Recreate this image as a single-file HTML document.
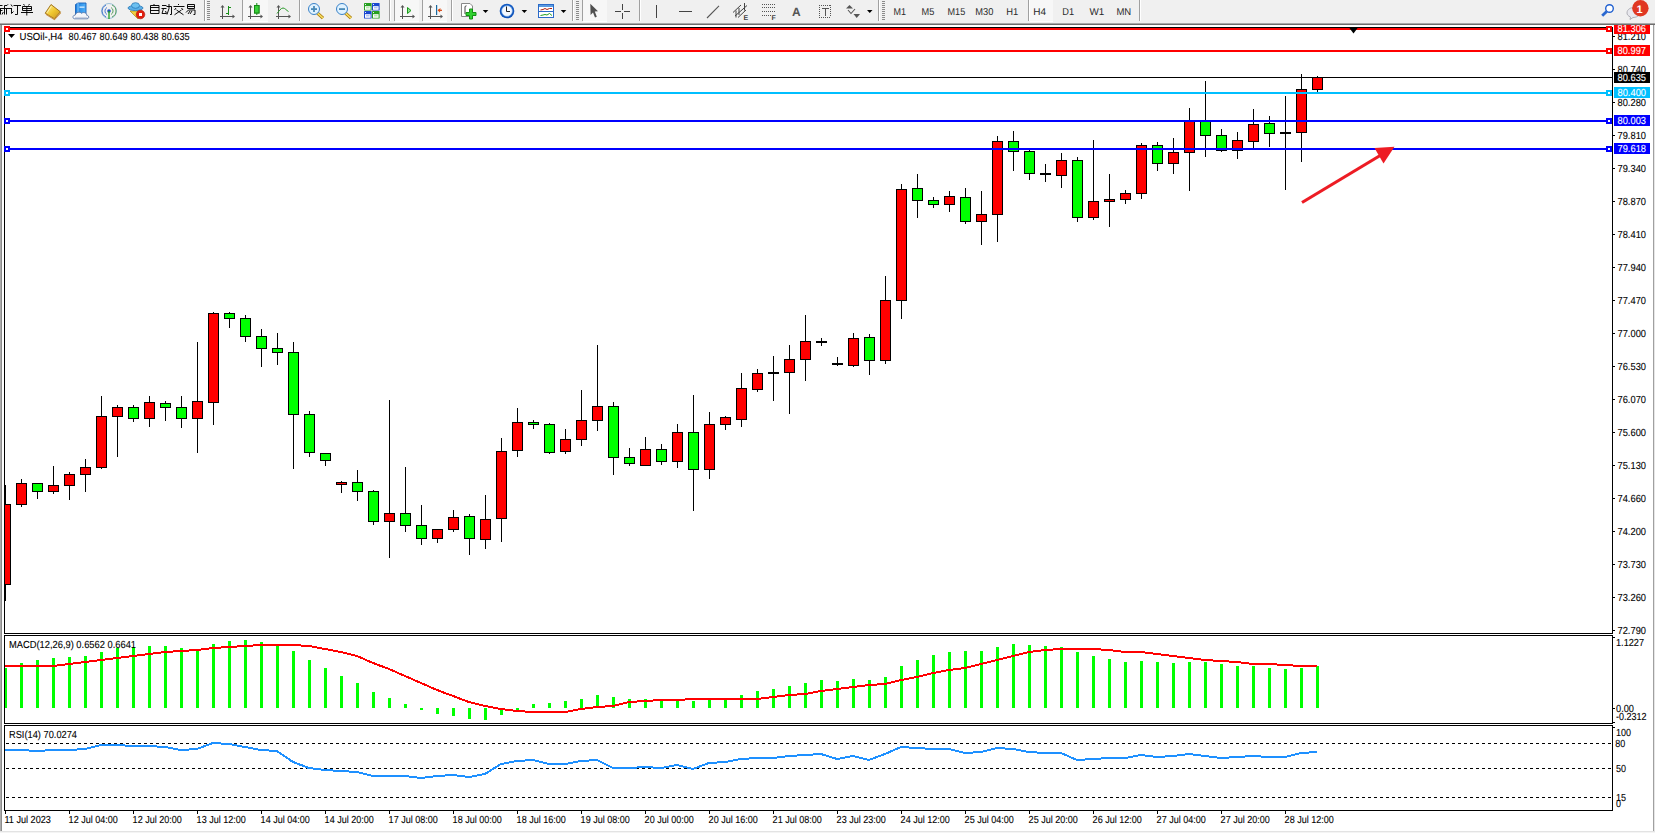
<!DOCTYPE html>
<html><head><meta charset="utf-8"><title>MT4 USOil H4</title>
<style>
html,body{margin:0;padding:0;background:#fff;}
body{width:1655px;height:833px;overflow:hidden;}
svg{display:block;font-family:"Liberation Sans",sans-serif;text-rendering:geometricPrecision;}
</style></head><body>
<svg width="1655" height="833" viewBox="0 0 1655 833">
<rect x="0" y="0" width="1655" height="833" fill="#fff"/>
<rect x="0" y="0" width="1655" height="23" fill="#f0f0f0"/>
<rect x="0" y="23" width="1655" height="1" fill="#a9a9a9"/>
<rect x="0" y="24" width="1655" height="1" fill="#6d6d6d"/>
<g shape-rendering="crispEdges">
<rect x="4" y="27" width="1609" height="1" fill="#000"/>
<rect x="4" y="633" width="1609" height="1" fill="#000"/>
<rect x="4" y="27" width="1" height="607" fill="#000"/>
<rect x="1612" y="27" width="1" height="607" fill="#000"/>
<rect x="4" y="635" width="1609" height="1" fill="#000"/>
<rect x="4" y="723" width="1609" height="1" fill="#000"/>
<rect x="4" y="635" width="1" height="89" fill="#000"/>
<rect x="1612" y="635" width="1" height="89" fill="#000"/>
<rect x="4" y="725" width="1609" height="1" fill="#000"/>
<rect x="4" y="810" width="1609" height="1" fill="#000"/>
<rect x="4" y="725" width="1" height="86" fill="#000"/>
<rect x="1612" y="725" width="1" height="86" fill="#000"/>
<g>
<rect x="5" y="485" width="1" height="116" fill="#000"/>
<rect x="0" y="504" width="11" height="81" fill="#000"/>
<rect x="1" y="505" width="9" height="79" fill="#ff0000"/>
<rect x="21" y="479" width="1" height="28" fill="#000"/>
<rect x="16" y="483" width="11" height="22" fill="#000"/>
<rect x="17" y="484" width="9" height="20" fill="#ff0000"/>
<rect x="37" y="483" width="1" height="16" fill="#000"/>
<rect x="32" y="483" width="11" height="9" fill="#000"/>
<rect x="33" y="484" width="9" height="7" fill="#00ff00"/>
<rect x="53" y="466" width="1" height="28" fill="#000"/>
<rect x="48" y="485" width="11" height="7" fill="#000"/>
<rect x="49" y="486" width="9" height="5" fill="#ff0000"/>
<rect x="69" y="472" width="1" height="28" fill="#000"/>
<rect x="64" y="474" width="11" height="12" fill="#000"/>
<rect x="65" y="475" width="9" height="10" fill="#ff0000"/>
<rect x="85" y="459" width="1" height="33" fill="#000"/>
<rect x="80" y="467" width="11" height="8" fill="#000"/>
<rect x="81" y="468" width="9" height="6" fill="#ff0000"/>
<rect x="101" y="396" width="1" height="73" fill="#000"/>
<rect x="96" y="416" width="11" height="52" fill="#000"/>
<rect x="97" y="417" width="9" height="50" fill="#ff0000"/>
<rect x="117" y="405" width="1" height="52" fill="#000"/>
<rect x="112" y="407" width="11" height="10" fill="#000"/>
<rect x="113" y="408" width="9" height="8" fill="#ff0000"/>
<rect x="133" y="405" width="1" height="17" fill="#000"/>
<rect x="128" y="407" width="11" height="12" fill="#000"/>
<rect x="129" y="408" width="9" height="10" fill="#00ff00"/>
<rect x="149" y="396" width="1" height="31" fill="#000"/>
<rect x="144" y="402" width="11" height="17" fill="#000"/>
<rect x="145" y="403" width="9" height="15" fill="#ff0000"/>
<rect x="165" y="401" width="1" height="20" fill="#000"/>
<rect x="160" y="403" width="11" height="5" fill="#000"/>
<rect x="161" y="404" width="9" height="3" fill="#00ff00"/>
<rect x="181" y="396" width="1" height="32" fill="#000"/>
<rect x="176" y="407" width="11" height="12" fill="#000"/>
<rect x="177" y="408" width="9" height="10" fill="#00ff00"/>
<rect x="197" y="342" width="1" height="111" fill="#000"/>
<rect x="192" y="401" width="11" height="18" fill="#000"/>
<rect x="193" y="402" width="9" height="16" fill="#ff0000"/>
<rect x="213" y="312" width="1" height="113" fill="#000"/>
<rect x="208" y="313" width="11" height="90" fill="#000"/>
<rect x="209" y="314" width="9" height="88" fill="#ff0000"/>
<rect x="229" y="312" width="1" height="16" fill="#000"/>
<rect x="224" y="313" width="11" height="6" fill="#000"/>
<rect x="225" y="314" width="9" height="4" fill="#00ff00"/>
<rect x="245" y="315" width="1" height="27" fill="#000"/>
<rect x="240" y="318" width="11" height="19" fill="#000"/>
<rect x="241" y="319" width="9" height="17" fill="#00ff00"/>
<rect x="261" y="329" width="1" height="38" fill="#000"/>
<rect x="256" y="336" width="11" height="13" fill="#000"/>
<rect x="257" y="337" width="9" height="11" fill="#00ff00"/>
<rect x="277" y="333" width="1" height="32" fill="#000"/>
<rect x="272" y="348" width="11" height="5" fill="#000"/>
<rect x="273" y="349" width="9" height="3" fill="#00ff00"/>
<rect x="293" y="342" width="1" height="127" fill="#000"/>
<rect x="288" y="352" width="11" height="63" fill="#000"/>
<rect x="289" y="353" width="9" height="61" fill="#00ff00"/>
<rect x="309" y="411" width="1" height="46" fill="#000"/>
<rect x="304" y="414" width="11" height="39" fill="#000"/>
<rect x="305" y="415" width="9" height="37" fill="#00ff00"/>
<rect x="325" y="453" width="1" height="13" fill="#000"/>
<rect x="320" y="453" width="11" height="8" fill="#000"/>
<rect x="321" y="454" width="9" height="6" fill="#00ff00"/>
<rect x="341" y="481" width="1" height="12" fill="#000"/>
<rect x="336" y="482" width="11" height="3" fill="#000"/>
<rect x="337" y="483" width="9" height="1" fill="#ff0000"/>
<rect x="357" y="470" width="1" height="31" fill="#000"/>
<rect x="352" y="482" width="11" height="10" fill="#000"/>
<rect x="353" y="483" width="9" height="8" fill="#00ff00"/>
<rect x="373" y="490" width="1" height="35" fill="#000"/>
<rect x="368" y="491" width="11" height="31" fill="#000"/>
<rect x="369" y="492" width="9" height="29" fill="#00ff00"/>
<rect x="389" y="400" width="1" height="158" fill="#000"/>
<rect x="384" y="513" width="11" height="9" fill="#000"/>
<rect x="385" y="514" width="9" height="7" fill="#ff0000"/>
<rect x="405" y="467" width="1" height="65" fill="#000"/>
<rect x="400" y="513" width="11" height="13" fill="#000"/>
<rect x="401" y="514" width="9" height="11" fill="#00ff00"/>
<rect x="421" y="505" width="1" height="40" fill="#000"/>
<rect x="416" y="525" width="11" height="14" fill="#000"/>
<rect x="417" y="526" width="9" height="12" fill="#00ff00"/>
<rect x="437" y="529" width="1" height="14" fill="#000"/>
<rect x="432" y="529" width="11" height="10" fill="#000"/>
<rect x="433" y="530" width="9" height="8" fill="#ff0000"/>
<rect x="453" y="510" width="1" height="22" fill="#000"/>
<rect x="448" y="517" width="11" height="13" fill="#000"/>
<rect x="449" y="518" width="9" height="11" fill="#ff0000"/>
<rect x="469" y="514" width="1" height="41" fill="#000"/>
<rect x="464" y="516" width="11" height="23" fill="#000"/>
<rect x="465" y="517" width="9" height="21" fill="#00ff00"/>
<rect x="485" y="495" width="1" height="54" fill="#000"/>
<rect x="480" y="519" width="11" height="21" fill="#000"/>
<rect x="481" y="520" width="9" height="19" fill="#ff0000"/>
<rect x="501" y="438" width="1" height="104" fill="#000"/>
<rect x="496" y="451" width="11" height="68" fill="#000"/>
<rect x="497" y="452" width="9" height="66" fill="#ff0000"/>
<rect x="517" y="408" width="1" height="49" fill="#000"/>
<rect x="512" y="422" width="11" height="29" fill="#000"/>
<rect x="513" y="423" width="9" height="27" fill="#ff0000"/>
<rect x="533" y="420" width="1" height="9" fill="#000"/>
<rect x="528" y="422" width="11" height="3" fill="#000"/>
<rect x="529" y="423" width="9" height="1" fill="#00ff00"/>
<rect x="549" y="423" width="1" height="31" fill="#000"/>
<rect x="544" y="424" width="11" height="29" fill="#000"/>
<rect x="545" y="425" width="9" height="27" fill="#00ff00"/>
<rect x="565" y="429" width="1" height="25" fill="#000"/>
<rect x="560" y="439" width="11" height="13" fill="#000"/>
<rect x="561" y="440" width="9" height="11" fill="#ff0000"/>
<rect x="581" y="390" width="1" height="56" fill="#000"/>
<rect x="576" y="420" width="11" height="20" fill="#000"/>
<rect x="577" y="421" width="9" height="18" fill="#ff0000"/>
<rect x="597" y="345" width="1" height="86" fill="#000"/>
<rect x="592" y="406" width="11" height="15" fill="#000"/>
<rect x="593" y="407" width="9" height="13" fill="#ff0000"/>
<rect x="613" y="402" width="1" height="73" fill="#000"/>
<rect x="608" y="406" width="11" height="52" fill="#000"/>
<rect x="609" y="407" width="9" height="50" fill="#00ff00"/>
<rect x="629" y="448" width="1" height="18" fill="#000"/>
<rect x="624" y="457" width="11" height="7" fill="#000"/>
<rect x="625" y="458" width="9" height="5" fill="#00ff00"/>
<rect x="645" y="437" width="1" height="29" fill="#000"/>
<rect x="640" y="449" width="11" height="17" fill="#000"/>
<rect x="641" y="450" width="9" height="15" fill="#ff0000"/>
<rect x="661" y="444" width="1" height="21" fill="#000"/>
<rect x="656" y="449" width="11" height="13" fill="#000"/>
<rect x="657" y="450" width="9" height="11" fill="#00ff00"/>
<rect x="677" y="424" width="1" height="44" fill="#000"/>
<rect x="672" y="432" width="11" height="30" fill="#000"/>
<rect x="673" y="433" width="9" height="28" fill="#ff0000"/>
<rect x="693" y="395" width="1" height="116" fill="#000"/>
<rect x="688" y="432" width="11" height="38" fill="#000"/>
<rect x="689" y="433" width="9" height="36" fill="#00ff00"/>
<rect x="709" y="412" width="1" height="67" fill="#000"/>
<rect x="704" y="424" width="11" height="46" fill="#000"/>
<rect x="705" y="425" width="9" height="44" fill="#ff0000"/>
<rect x="725" y="416" width="1" height="14" fill="#000"/>
<rect x="720" y="417" width="11" height="8" fill="#000"/>
<rect x="721" y="418" width="9" height="6" fill="#ff0000"/>
<rect x="741" y="373" width="1" height="54" fill="#000"/>
<rect x="736" y="388" width="11" height="32" fill="#000"/>
<rect x="737" y="389" width="9" height="30" fill="#ff0000"/>
<rect x="757" y="369" width="1" height="23" fill="#000"/>
<rect x="752" y="373" width="11" height="17" fill="#000"/>
<rect x="753" y="374" width="9" height="15" fill="#ff0000"/>
<rect x="773" y="356" width="1" height="45" fill="#000"/>
<rect x="768" y="372" width="11" height="2" fill="#000"/>
<rect x="789" y="345" width="1" height="69" fill="#000"/>
<rect x="784" y="359" width="11" height="14" fill="#000"/>
<rect x="785" y="360" width="9" height="12" fill="#ff0000"/>
<rect x="805" y="315" width="1" height="66" fill="#000"/>
<rect x="800" y="341" width="11" height="19" fill="#000"/>
<rect x="801" y="342" width="9" height="17" fill="#ff0000"/>
<rect x="821" y="338" width="1" height="8" fill="#000"/>
<rect x="816" y="341" width="11" height="2" fill="#000"/>
<rect x="837" y="357" width="1" height="9" fill="#000"/>
<rect x="832" y="363" width="11" height="2" fill="#000"/>
<rect x="853" y="333" width="1" height="34" fill="#000"/>
<rect x="848" y="338" width="11" height="28" fill="#000"/>
<rect x="849" y="339" width="9" height="26" fill="#ff0000"/>
<rect x="869" y="334" width="1" height="41" fill="#000"/>
<rect x="864" y="337" width="11" height="24" fill="#000"/>
<rect x="865" y="338" width="9" height="22" fill="#00ff00"/>
<rect x="885" y="276" width="1" height="88" fill="#000"/>
<rect x="880" y="300" width="11" height="61" fill="#000"/>
<rect x="881" y="301" width="9" height="59" fill="#ff0000"/>
<rect x="901" y="184" width="1" height="135" fill="#000"/>
<rect x="896" y="189" width="11" height="112" fill="#000"/>
<rect x="897" y="190" width="9" height="110" fill="#ff0000"/>
<rect x="917" y="174" width="1" height="44" fill="#000"/>
<rect x="912" y="188" width="11" height="13" fill="#000"/>
<rect x="913" y="189" width="9" height="11" fill="#00ff00"/>
<rect x="933" y="197" width="1" height="11" fill="#000"/>
<rect x="928" y="200" width="11" height="5" fill="#000"/>
<rect x="929" y="201" width="9" height="3" fill="#00ff00"/>
<rect x="949" y="191" width="1" height="21" fill="#000"/>
<rect x="944" y="196" width="11" height="9" fill="#000"/>
<rect x="945" y="197" width="9" height="7" fill="#ff0000"/>
<rect x="965" y="188" width="1" height="36" fill="#000"/>
<rect x="960" y="197" width="11" height="25" fill="#000"/>
<rect x="961" y="198" width="9" height="23" fill="#00ff00"/>
<rect x="981" y="191" width="1" height="54" fill="#000"/>
<rect x="976" y="214" width="11" height="8" fill="#000"/>
<rect x="977" y="215" width="9" height="6" fill="#ff0000"/>
<rect x="997" y="136" width="1" height="106" fill="#000"/>
<rect x="992" y="141" width="11" height="74" fill="#000"/>
<rect x="993" y="142" width="9" height="72" fill="#ff0000"/>
<rect x="1013" y="131" width="1" height="40" fill="#000"/>
<rect x="1008" y="141" width="11" height="11" fill="#000"/>
<rect x="1009" y="142" width="9" height="9" fill="#00ff00"/>
<rect x="1029" y="150" width="1" height="30" fill="#000"/>
<rect x="1024" y="151" width="11" height="23" fill="#000"/>
<rect x="1025" y="152" width="9" height="21" fill="#00ff00"/>
<rect x="1045" y="164" width="1" height="18" fill="#000"/>
<rect x="1040" y="173" width="11" height="2" fill="#000"/>
<rect x="1061" y="153" width="1" height="35" fill="#000"/>
<rect x="1056" y="160" width="11" height="16" fill="#000"/>
<rect x="1057" y="161" width="9" height="14" fill="#ff0000"/>
<rect x="1077" y="157" width="1" height="65" fill="#000"/>
<rect x="1072" y="160" width="11" height="58" fill="#000"/>
<rect x="1073" y="161" width="9" height="56" fill="#00ff00"/>
<rect x="1093" y="140" width="1" height="80" fill="#000"/>
<rect x="1088" y="201" width="11" height="17" fill="#000"/>
<rect x="1089" y="202" width="9" height="15" fill="#ff0000"/>
<rect x="1109" y="174" width="1" height="53" fill="#000"/>
<rect x="1104" y="199" width="11" height="3" fill="#000"/>
<rect x="1105" y="200" width="9" height="1" fill="#ff0000"/>
<rect x="1125" y="190" width="1" height="14" fill="#000"/>
<rect x="1120" y="193" width="11" height="7" fill="#000"/>
<rect x="1121" y="194" width="9" height="5" fill="#ff0000"/>
<rect x="1141" y="143" width="1" height="56" fill="#000"/>
<rect x="1136" y="145" width="11" height="49" fill="#000"/>
<rect x="1137" y="146" width="9" height="47" fill="#ff0000"/>
<rect x="1157" y="142" width="1" height="29" fill="#000"/>
<rect x="1152" y="145" width="11" height="19" fill="#000"/>
<rect x="1153" y="146" width="9" height="17" fill="#00ff00"/>
<rect x="1173" y="138" width="1" height="36" fill="#000"/>
<rect x="1168" y="152" width="11" height="12" fill="#000"/>
<rect x="1169" y="153" width="9" height="10" fill="#ff0000"/>
<rect x="1189" y="108" width="1" height="83" fill="#000"/>
<rect x="1184" y="121" width="11" height="32" fill="#000"/>
<rect x="1185" y="122" width="9" height="30" fill="#ff0000"/>
<rect x="1205" y="81" width="1" height="76" fill="#000"/>
<rect x="1200" y="121" width="11" height="15" fill="#000"/>
<rect x="1201" y="122" width="9" height="13" fill="#00ff00"/>
<rect x="1221" y="129" width="1" height="23" fill="#000"/>
<rect x="1216" y="135" width="11" height="16" fill="#000"/>
<rect x="1217" y="136" width="9" height="14" fill="#00ff00"/>
<rect x="1237" y="132" width="1" height="27" fill="#000"/>
<rect x="1232" y="140" width="11" height="11" fill="#000"/>
<rect x="1233" y="141" width="9" height="9" fill="#ff0000"/>
<rect x="1253" y="109" width="1" height="39" fill="#000"/>
<rect x="1248" y="124" width="11" height="18" fill="#000"/>
<rect x="1249" y="125" width="9" height="16" fill="#ff0000"/>
<rect x="1269" y="116" width="1" height="31" fill="#000"/>
<rect x="1264" y="123" width="11" height="11" fill="#000"/>
<rect x="1265" y="124" width="9" height="9" fill="#00ff00"/>
<rect x="1285" y="96" width="1" height="94" fill="#000"/>
<rect x="1280" y="132" width="11" height="2" fill="#000"/>
<rect x="1301" y="74" width="1" height="88" fill="#000"/>
<rect x="1296" y="89" width="11" height="44" fill="#000"/>
<rect x="1297" y="90" width="9" height="42" fill="#ff0000"/>
<rect x="1317" y="76" width="1" height="16" fill="#000"/>
<rect x="1312" y="77" width="11" height="13" fill="#000"/>
<rect x="1313" y="78" width="9" height="11" fill="#ff0000"/>
</g>
</g>
<rect x="2" y="26" width="2" height="606" fill="#fff"/>
<rect x="4" y="27" width="1" height="607" fill="#000"/>
<g shape-rendering="crispEdges">
<rect x="5" y="77" width="1607" height="1" fill="#000"/>
<rect x="5" y="28" width="1607" height="2" fill="#ff0000"/>
<rect x="4" y="26" width="6" height="6" fill="#ff0000"/>
<rect x="6" y="28" width="2" height="2" fill="#fff"/>
<rect x="1606" y="26" width="6" height="6" fill="#ff0000"/>
<rect x="1608" y="28" width="2" height="2" fill="#fff"/>
<rect x="5" y="50" width="1607" height="2" fill="#ff0000"/>
<rect x="4" y="48" width="6" height="6" fill="#ff0000"/>
<rect x="6" y="50" width="2" height="2" fill="#fff"/>
<rect x="1606" y="48" width="6" height="6" fill="#ff0000"/>
<rect x="1608" y="50" width="2" height="2" fill="#fff"/>
<rect x="5" y="92" width="1607" height="2" fill="#00bfff"/>
<rect x="4" y="90" width="6" height="6" fill="#00bfff"/>
<rect x="6" y="92" width="2" height="2" fill="#fff"/>
<rect x="1606" y="90" width="6" height="6" fill="#00bfff"/>
<rect x="1608" y="92" width="2" height="2" fill="#fff"/>
<rect x="5" y="120" width="1607" height="2" fill="#0000ff"/>
<rect x="4" y="118" width="6" height="6" fill="#0000ff"/>
<rect x="6" y="120" width="2" height="2" fill="#fff"/>
<rect x="1606" y="118" width="6" height="6" fill="#0000ff"/>
<rect x="1608" y="120" width="2" height="2" fill="#fff"/>
<rect x="5" y="148" width="1607" height="2" fill="#0000ff"/>
<rect x="4" y="146" width="6" height="6" fill="#0000ff"/>
<rect x="6" y="148" width="2" height="2" fill="#fff"/>
<rect x="1606" y="146" width="6" height="6" fill="#0000ff"/>
<rect x="1608" y="148" width="2" height="2" fill="#fff"/>
<rect x="10" y="27" width="1596" height="1" fill="#000"/>
</g>
<polygon points="1348.6,27 1358.4,27 1353.5,33.6" fill="#000"/>
<g fill="#ed1c24" stroke="none">
<line x1="1302" y1="202.5" x2="1381" y2="155" stroke="#ed1c24" stroke-width="3.2" stroke-linecap="butt"/>
<polygon points="1374.5,148 1394.5,146.8 1383.5,163.5"/>
</g>
<polygon points="8,34 15,34 11.5,38" fill="#000"/>
<text x="19.6" y="40" fill="#000" font-size="10.2" stroke="#000" stroke-width="0.1" textLength="43" lengthAdjust="spacingAndGlyphs">USOil-,H4</text>
<text x="68.6" y="40" fill="#000" font-size="10.2" stroke="#000" stroke-width="0.1" textLength="28" lengthAdjust="spacingAndGlyphs">80.467</text>
<text x="99.6" y="40" fill="#000" font-size="10.2" stroke="#000" stroke-width="0.1" textLength="28" lengthAdjust="spacingAndGlyphs">80.649</text>
<text x="130.6" y="40" fill="#000" font-size="10.2" stroke="#000" stroke-width="0.1" textLength="28" lengthAdjust="spacingAndGlyphs">80.438</text>
<text x="161.6" y="40" fill="#000" font-size="10.2" stroke="#000" stroke-width="0.1" textLength="28" lengthAdjust="spacingAndGlyphs">80.635</text>
<g shape-rendering="crispEdges">
<rect x="1613" y="36" width="2" height="1" fill="#000"/>
<rect x="1613" y="69" width="2" height="1" fill="#000"/>
<rect x="1613" y="102" width="2" height="1" fill="#000"/>
<rect x="1613" y="135" width="2" height="1" fill="#000"/>
<rect x="1613" y="168" width="2" height="1" fill="#000"/>
<rect x="1613" y="201" width="2" height="1" fill="#000"/>
<rect x="1613" y="234" width="2" height="1" fill="#000"/>
<rect x="1613" y="267" width="2" height="1" fill="#000"/>
<rect x="1613" y="300" width="2" height="1" fill="#000"/>
<rect x="1613" y="333" width="2" height="1" fill="#000"/>
<rect x="1613" y="366" width="2" height="1" fill="#000"/>
<rect x="1613" y="399" width="2" height="1" fill="#000"/>
<rect x="1613" y="432" width="2" height="1" fill="#000"/>
<rect x="1613" y="465" width="2" height="1" fill="#000"/>
<rect x="1613" y="498" width="2" height="1" fill="#000"/>
<rect x="1613" y="531" width="2" height="1" fill="#000"/>
<rect x="1613" y="564" width="2" height="1" fill="#000"/>
<rect x="1613" y="597" width="2" height="1" fill="#000"/>
<rect x="1613" y="630" width="2" height="1" fill="#000"/>
</g>
<text x="1617.5" y="40" fill="#000" font-size="10.2" stroke="#000" stroke-width="0.1" textLength="28.5" lengthAdjust="spacingAndGlyphs">81.210</text>
<text x="1617.5" y="73" fill="#000" font-size="10.2" stroke="#000" stroke-width="0.1" textLength="28.5" lengthAdjust="spacingAndGlyphs">80.740</text>
<text x="1617.5" y="106" fill="#000" font-size="10.2" stroke="#000" stroke-width="0.1" textLength="28.5" lengthAdjust="spacingAndGlyphs">80.280</text>
<text x="1617.5" y="139" fill="#000" font-size="10.2" stroke="#000" stroke-width="0.1" textLength="28.5" lengthAdjust="spacingAndGlyphs">79.810</text>
<text x="1617.5" y="172" fill="#000" font-size="10.2" stroke="#000" stroke-width="0.1" textLength="28.5" lengthAdjust="spacingAndGlyphs">79.340</text>
<text x="1617.5" y="205" fill="#000" font-size="10.2" stroke="#000" stroke-width="0.1" textLength="28.5" lengthAdjust="spacingAndGlyphs">78.870</text>
<text x="1617.5" y="238" fill="#000" font-size="10.2" stroke="#000" stroke-width="0.1" textLength="28.5" lengthAdjust="spacingAndGlyphs">78.410</text>
<text x="1617.5" y="271" fill="#000" font-size="10.2" stroke="#000" stroke-width="0.1" textLength="28.5" lengthAdjust="spacingAndGlyphs">77.940</text>
<text x="1617.5" y="304" fill="#000" font-size="10.2" stroke="#000" stroke-width="0.1" textLength="28.5" lengthAdjust="spacingAndGlyphs">77.470</text>
<text x="1617.5" y="337" fill="#000" font-size="10.2" stroke="#000" stroke-width="0.1" textLength="28.5" lengthAdjust="spacingAndGlyphs">77.000</text>
<text x="1617.5" y="370" fill="#000" font-size="10.2" stroke="#000" stroke-width="0.1" textLength="28.5" lengthAdjust="spacingAndGlyphs">76.530</text>
<text x="1617.5" y="403" fill="#000" font-size="10.2" stroke="#000" stroke-width="0.1" textLength="28.5" lengthAdjust="spacingAndGlyphs">76.070</text>
<text x="1617.5" y="436" fill="#000" font-size="10.2" stroke="#000" stroke-width="0.1" textLength="28.5" lengthAdjust="spacingAndGlyphs">75.600</text>
<text x="1617.5" y="469" fill="#000" font-size="10.2" stroke="#000" stroke-width="0.1" textLength="28.5" lengthAdjust="spacingAndGlyphs">75.130</text>
<text x="1617.5" y="502" fill="#000" font-size="10.2" stroke="#000" stroke-width="0.1" textLength="28.5" lengthAdjust="spacingAndGlyphs">74.660</text>
<text x="1617.5" y="535" fill="#000" font-size="10.2" stroke="#000" stroke-width="0.1" textLength="28.5" lengthAdjust="spacingAndGlyphs">74.200</text>
<text x="1617.5" y="568" fill="#000" font-size="10.2" stroke="#000" stroke-width="0.1" textLength="28.5" lengthAdjust="spacingAndGlyphs">73.730</text>
<text x="1617.5" y="601" fill="#000" font-size="10.2" stroke="#000" stroke-width="0.1" textLength="28.5" lengthAdjust="spacingAndGlyphs">73.260</text>
<text x="1617.5" y="634" fill="#000" font-size="10.2" stroke="#000" stroke-width="0.1" textLength="28.5" lengthAdjust="spacingAndGlyphs">72.790</text>
<rect x="1614" y="23" width="36" height="11" fill="#ff0000" shape-rendering="crispEdges"/>
<text x="1617.5" y="32" fill="#fff" font-size="10.2" stroke="#fff" stroke-width="0.1" textLength="28.5" lengthAdjust="spacingAndGlyphs">81.306</text>
<rect x="1614" y="45" width="36" height="11" fill="#ff0000" shape-rendering="crispEdges"/>
<text x="1617.5" y="54" fill="#fff" font-size="10.2" stroke="#fff" stroke-width="0.1" textLength="28.5" lengthAdjust="spacingAndGlyphs">80.997</text>
<rect x="1614" y="72" width="36" height="11" fill="#000" shape-rendering="crispEdges"/>
<text x="1617.5" y="81" fill="#fff" font-size="10.2" stroke="#fff" stroke-width="0.1" textLength="28.5" lengthAdjust="spacingAndGlyphs">80.635</text>
<rect x="1614" y="87" width="36" height="11" fill="#00bfff" shape-rendering="crispEdges"/>
<text x="1617.5" y="96" fill="#fff" font-size="10.2" stroke="#fff" stroke-width="0.1" textLength="28.5" lengthAdjust="spacingAndGlyphs">80.400</text>
<rect x="1614" y="115" width="36" height="11" fill="#0000ff" shape-rendering="crispEdges"/>
<text x="1617.5" y="124" fill="#fff" font-size="10.2" stroke="#fff" stroke-width="0.1" textLength="28.5" lengthAdjust="spacingAndGlyphs">80.003</text>
<rect x="1614" y="143" width="36" height="11" fill="#0000ff" shape-rendering="crispEdges"/>
<text x="1617.5" y="152" fill="#fff" font-size="10.2" stroke="#fff" stroke-width="0.1" textLength="28.5" lengthAdjust="spacingAndGlyphs">79.618</text>
<rect x="1613" y="23" width="40" height="2" fill="#6d6d6d"/>
<rect x="1613" y="23" width="40" height="1" fill="#a9a9a9"/>
<g shape-rendering="crispEdges">
<rect x="4" y="668" width="3" height="40" fill="#00ff00"/>
<rect x="20" y="663" width="3" height="45" fill="#00ff00"/>
<rect x="36" y="660" width="3" height="48" fill="#00ff00"/>
<rect x="52" y="658" width="3" height="50" fill="#00ff00"/>
<rect x="68" y="657" width="3" height="51" fill="#00ff00"/>
<rect x="84" y="656" width="3" height="52" fill="#00ff00"/>
<rect x="100" y="652" width="3" height="56" fill="#00ff00"/>
<rect x="116" y="648" width="3" height="60" fill="#00ff00"/>
<rect x="132" y="647" width="3" height="61" fill="#00ff00"/>
<rect x="148" y="646" width="3" height="62" fill="#00ff00"/>
<rect x="164" y="646" width="3" height="62" fill="#00ff00"/>
<rect x="180" y="648" width="3" height="60" fill="#00ff00"/>
<rect x="196" y="649" width="3" height="59" fill="#00ff00"/>
<rect x="212" y="644" width="3" height="64" fill="#00ff00"/>
<rect x="228" y="641" width="3" height="67" fill="#00ff00"/>
<rect x="244" y="640" width="3" height="68" fill="#00ff00"/>
<rect x="260" y="642" width="3" height="66" fill="#00ff00"/>
<rect x="276" y="645" width="3" height="63" fill="#00ff00"/>
<rect x="292" y="651" width="3" height="57" fill="#00ff00"/>
<rect x="308" y="660" width="3" height="48" fill="#00ff00"/>
<rect x="324" y="668" width="3" height="40" fill="#00ff00"/>
<rect x="340" y="676" width="3" height="32" fill="#00ff00"/>
<rect x="356" y="683" width="3" height="25" fill="#00ff00"/>
<rect x="372" y="692" width="3" height="16" fill="#00ff00"/>
<rect x="388" y="698" width="3" height="10" fill="#00ff00"/>
<rect x="404" y="704" width="3" height="4" fill="#00ff00"/>
<rect x="420" y="708" width="3" height="2" fill="#00ff00"/>
<rect x="436" y="708" width="3" height="6" fill="#00ff00"/>
<rect x="452" y="708" width="3" height="8" fill="#00ff00"/>
<rect x="468" y="708" width="3" height="11" fill="#00ff00"/>
<rect x="484" y="708" width="3" height="12" fill="#00ff00"/>
<rect x="500" y="708" width="3" height="7" fill="#00ff00"/>
<rect x="516" y="708" width="3" height="2" fill="#00ff00"/>
<rect x="532" y="704" width="3" height="4" fill="#00ff00"/>
<rect x="548" y="703" width="3" height="5" fill="#00ff00"/>
<rect x="564" y="701" width="3" height="7" fill="#00ff00"/>
<rect x="580" y="699" width="3" height="9" fill="#00ff00"/>
<rect x="596" y="695" width="3" height="13" fill="#00ff00"/>
<rect x="612" y="697" width="3" height="11" fill="#00ff00"/>
<rect x="628" y="699" width="3" height="9" fill="#00ff00"/>
<rect x="644" y="699" width="3" height="9" fill="#00ff00"/>
<rect x="660" y="700" width="3" height="8" fill="#00ff00"/>
<rect x="676" y="699" width="3" height="9" fill="#00ff00"/>
<rect x="692" y="701" width="3" height="7" fill="#00ff00"/>
<rect x="708" y="700" width="3" height="8" fill="#00ff00"/>
<rect x="724" y="700" width="3" height="8" fill="#00ff00"/>
<rect x="740" y="695" width="3" height="13" fill="#00ff00"/>
<rect x="756" y="691" width="3" height="17" fill="#00ff00"/>
<rect x="772" y="689" width="3" height="19" fill="#00ff00"/>
<rect x="788" y="686" width="3" height="22" fill="#00ff00"/>
<rect x="804" y="683" width="3" height="25" fill="#00ff00"/>
<rect x="820" y="680" width="3" height="28" fill="#00ff00"/>
<rect x="836" y="681" width="3" height="27" fill="#00ff00"/>
<rect x="852" y="679" width="3" height="29" fill="#00ff00"/>
<rect x="868" y="680" width="3" height="28" fill="#00ff00"/>
<rect x="884" y="677" width="3" height="31" fill="#00ff00"/>
<rect x="900" y="666" width="3" height="42" fill="#00ff00"/>
<rect x="916" y="660" width="3" height="48" fill="#00ff00"/>
<rect x="932" y="655" width="3" height="53" fill="#00ff00"/>
<rect x="948" y="652" width="3" height="56" fill="#00ff00"/>
<rect x="964" y="651" width="3" height="57" fill="#00ff00"/>
<rect x="980" y="651" width="3" height="57" fill="#00ff00"/>
<rect x="996" y="647" width="3" height="61" fill="#00ff00"/>
<rect x="1012" y="644" width="3" height="64" fill="#00ff00"/>
<rect x="1028" y="645" width="3" height="63" fill="#00ff00"/>
<rect x="1044" y="646" width="3" height="62" fill="#00ff00"/>
<rect x="1060" y="647" width="3" height="61" fill="#00ff00"/>
<rect x="1076" y="652" width="3" height="56" fill="#00ff00"/>
<rect x="1092" y="656" width="3" height="52" fill="#00ff00"/>
<rect x="1108" y="659" width="3" height="49" fill="#00ff00"/>
<rect x="1124" y="662" width="3" height="46" fill="#00ff00"/>
<rect x="1140" y="661" width="3" height="47" fill="#00ff00"/>
<rect x="1156" y="662" width="3" height="46" fill="#00ff00"/>
<rect x="1172" y="663" width="3" height="45" fill="#00ff00"/>
<rect x="1188" y="662" width="3" height="46" fill="#00ff00"/>
<rect x="1204" y="662" width="3" height="46" fill="#00ff00"/>
<rect x="1220" y="664" width="3" height="44" fill="#00ff00"/>
<rect x="1236" y="666" width="3" height="42" fill="#00ff00"/>
<rect x="1252" y="666" width="3" height="42" fill="#00ff00"/>
<rect x="1268" y="668" width="3" height="40" fill="#00ff00"/>
<rect x="1284" y="669" width="3" height="39" fill="#00ff00"/>
<rect x="1300" y="668" width="3" height="40" fill="#00ff00"/>
<rect x="1316" y="666" width="3" height="42" fill="#00ff00"/>
</g>
<rect x="2" y="636" width="2" height="87" fill="#fff"/>
<rect x="4" y="635" width="1" height="89" fill="#000"/>
<polyline points="5,666 21,666 37,666 53,666 69,664 85,662 101,660 117,658 133,656 149,654 165,652 181,651 197,650 213,648 229,647 245,646 261,645 277,645 293,645 309,646 325,649 341,652 357,656 373,663 389,669 405,676 421,683 437,690 453,696 469,702 485,706 501,709 517,711 533,712 549,712 565,712 581,709 597,707 613,706 629,702 645,701 661,700 677,700 693,699 709,699 725,699 741,699 757,699 773,697 789,695 805,694 821,691 837,689 853,687 869,685 885,684 901,680 917,677 933,673 949,670 965,668 981,664 997,660 1013,656 1029,652 1045,650 1061,649 1077,649 1093,649 1109,650 1125,652 1141,652 1157,654 1173,656 1189,658 1205,660 1221,661 1237,662 1253,664 1269,664 1285,665 1301,666 1317,666" fill="none" stroke="#ff0000" stroke-width="2" shape-rendering="crispEdges"/>
<text x="9" y="648" fill="#000" font-size="10.2" stroke="#000" stroke-width="0.1" textLength="127" lengthAdjust="spacingAndGlyphs">MACD(12,26,9) 0.6562 0.6641</text>
<g shape-rendering="crispEdges">
<rect x="1613" y="637" width="2" height="1" fill="#000"/>
<rect x="1613" y="708" width="2" height="1" fill="#000"/>
<rect x="1613" y="722" width="2" height="1" fill="#000"/>
</g>
<text x="1616" y="646" fill="#000" font-size="10.2" stroke="#000" stroke-width="0.1" textLength="28" lengthAdjust="spacingAndGlyphs">1.1227</text>
<text x="1616" y="712" fill="#000" font-size="10.2" stroke="#000" stroke-width="0.1" textLength="18" lengthAdjust="spacingAndGlyphs">0.00</text>
<text x="1616" y="720" fill="#000" font-size="10.2" stroke="#000" stroke-width="0.1" textLength="30.5" lengthAdjust="spacingAndGlyphs">-0.2312</text>
<g shape-rendering="crispEdges">
<line x1="6" y1="743.5" x2="1611" y2="743.5" stroke="#000" stroke-width="1" stroke-dasharray="3,3"/>
<line x1="6" y1="768.5" x2="1611" y2="768.5" stroke="#000" stroke-width="1" stroke-dasharray="3,3"/>
<line x1="6" y1="797.5" x2="1611" y2="797.5" stroke="#000" stroke-width="1" stroke-dasharray="3,3"/>
<rect x="1613" y="727" width="2" height="1" fill="#000"/>
</g>
<polyline points="5,750 21,750 37,751 53,750 69,750 85,749 101,745 117,745 133,746 149,746 165,747 181,750 197,749 213,743 229,744 245,747 261,750 277,751 293,762 309,768 325,770 341,771 357,772 373,776 389,776 405,776 421,778 437,776 453,775 469,777 485,774 501,764 517,761 533,760 549,764 565,764 581,761 597,760 613,768 629,768 645,767 661,768 677,765 693,769 709,763 725,762 741,759 757,758 773,758 789,756 805,755 821,754 837,759 853,756 869,760 885,754 901,747 917,748 933,749 949,749 965,753 981,752 997,748 1013,749 1029,752 1045,753 1061,753 1077,760 1093,759 1109,758 1125,758 1141,755 1157,757 1173,756 1189,754 1205,756 1221,758 1237,757 1253,756 1269,757 1285,757 1301,753 1317,752" fill="none" stroke="#1e90ff" stroke-width="2" shape-rendering="crispEdges"/>
<rect x="2" y="726" width="2" height="84" fill="#fff"/>
<rect x="4" y="725" width="1" height="86" fill="#000"/>
<text x="9" y="738" fill="#000" font-size="10.2" stroke="#000" stroke-width="0.1" textLength="68" lengthAdjust="spacingAndGlyphs">RSI(14) 70.0274</text>
<text x="1616" y="736" fill="#000" font-size="10.2" stroke="#000" stroke-width="0.1" textLength="15" lengthAdjust="spacingAndGlyphs">100</text>
<text x="1615.3" y="747" fill="#000" font-size="10.2" stroke="#000" stroke-width="0.1" textLength="10" lengthAdjust="spacingAndGlyphs">80</text>
<text x="1616" y="772" fill="#000" font-size="10.2" stroke="#000" stroke-width="0.1" textLength="10" lengthAdjust="spacingAndGlyphs">50</text>
<text x="1616" y="801" fill="#000" font-size="10.2" stroke="#000" stroke-width="0.1" textLength="10" lengthAdjust="spacingAndGlyphs">15</text>
<text x="1616" y="807" fill="#000" font-size="10.2" stroke="#000" stroke-width="0.1" textLength="5" lengthAdjust="spacingAndGlyphs">0</text>
<g shape-rendering="crispEdges">
<rect x="5" y="811" width="1" height="3" fill="#000"/>
<rect x="69" y="811" width="1" height="3" fill="#000"/>
<rect x="133" y="811" width="1" height="3" fill="#000"/>
<rect x="197" y="811" width="1" height="3" fill="#000"/>
<rect x="261" y="811" width="1" height="3" fill="#000"/>
<rect x="325" y="811" width="1" height="3" fill="#000"/>
<rect x="389" y="811" width="1" height="3" fill="#000"/>
<rect x="453" y="811" width="1" height="3" fill="#000"/>
<rect x="517" y="811" width="1" height="3" fill="#000"/>
<rect x="581" y="811" width="1" height="3" fill="#000"/>
<rect x="645" y="811" width="1" height="3" fill="#000"/>
<rect x="709" y="811" width="1" height="3" fill="#000"/>
<rect x="773" y="811" width="1" height="3" fill="#000"/>
<rect x="837" y="811" width="1" height="3" fill="#000"/>
<rect x="901" y="811" width="1" height="3" fill="#000"/>
<rect x="965" y="811" width="1" height="3" fill="#000"/>
<rect x="1029" y="811" width="1" height="3" fill="#000"/>
<rect x="1093" y="811" width="1" height="3" fill="#000"/>
<rect x="1157" y="811" width="1" height="3" fill="#000"/>
<rect x="1221" y="811" width="1" height="3" fill="#000"/>
<rect x="1285" y="811" width="1" height="3" fill="#000"/>
</g>
<text x="4.4" y="823" fill="#000" font-size="10.2" stroke="#000" stroke-width="0.1" textLength="46.5" lengthAdjust="spacingAndGlyphs">11 Jul 2023</text>
<text x="68.6" y="823" fill="#000" font-size="10.2" stroke="#000" stroke-width="0.1" textLength="49.3" lengthAdjust="spacingAndGlyphs">12 Jul 04:00</text>
<text x="132.6" y="823" fill="#000" font-size="10.2" stroke="#000" stroke-width="0.1" textLength="49.3" lengthAdjust="spacingAndGlyphs">12 Jul 20:00</text>
<text x="196.6" y="823" fill="#000" font-size="10.2" stroke="#000" stroke-width="0.1" textLength="49.3" lengthAdjust="spacingAndGlyphs">13 Jul 12:00</text>
<text x="260.6" y="823" fill="#000" font-size="10.2" stroke="#000" stroke-width="0.1" textLength="49.3" lengthAdjust="spacingAndGlyphs">14 Jul 04:00</text>
<text x="324.6" y="823" fill="#000" font-size="10.2" stroke="#000" stroke-width="0.1" textLength="49.3" lengthAdjust="spacingAndGlyphs">14 Jul 20:00</text>
<text x="388.6" y="823" fill="#000" font-size="10.2" stroke="#000" stroke-width="0.1" textLength="49.3" lengthAdjust="spacingAndGlyphs">17 Jul 08:00</text>
<text x="452.6" y="823" fill="#000" font-size="10.2" stroke="#000" stroke-width="0.1" textLength="49.3" lengthAdjust="spacingAndGlyphs">18 Jul 00:00</text>
<text x="516.6" y="823" fill="#000" font-size="10.2" stroke="#000" stroke-width="0.1" textLength="49.3" lengthAdjust="spacingAndGlyphs">18 Jul 16:00</text>
<text x="580.6" y="823" fill="#000" font-size="10.2" stroke="#000" stroke-width="0.1" textLength="49.3" lengthAdjust="spacingAndGlyphs">19 Jul 08:00</text>
<text x="644.6" y="823" fill="#000" font-size="10.2" stroke="#000" stroke-width="0.1" textLength="49.3" lengthAdjust="spacingAndGlyphs">20 Jul 00:00</text>
<text x="708.6" y="823" fill="#000" font-size="10.2" stroke="#000" stroke-width="0.1" textLength="49.3" lengthAdjust="spacingAndGlyphs">20 Jul 16:00</text>
<text x="772.6" y="823" fill="#000" font-size="10.2" stroke="#000" stroke-width="0.1" textLength="49.3" lengthAdjust="spacingAndGlyphs">21 Jul 08:00</text>
<text x="836.6" y="823" fill="#000" font-size="10.2" stroke="#000" stroke-width="0.1" textLength="49.3" lengthAdjust="spacingAndGlyphs">23 Jul 23:00</text>
<text x="900.6" y="823" fill="#000" font-size="10.2" stroke="#000" stroke-width="0.1" textLength="49.3" lengthAdjust="spacingAndGlyphs">24 Jul 12:00</text>
<text x="964.6" y="823" fill="#000" font-size="10.2" stroke="#000" stroke-width="0.1" textLength="49.3" lengthAdjust="spacingAndGlyphs">25 Jul 04:00</text>
<text x="1028.6" y="823" fill="#000" font-size="10.2" stroke="#000" stroke-width="0.1" textLength="49.3" lengthAdjust="spacingAndGlyphs">25 Jul 20:00</text>
<text x="1092.6" y="823" fill="#000" font-size="10.2" stroke="#000" stroke-width="0.1" textLength="49.3" lengthAdjust="spacingAndGlyphs">26 Jul 12:00</text>
<text x="1156.6" y="823" fill="#000" font-size="10.2" stroke="#000" stroke-width="0.1" textLength="49.3" lengthAdjust="spacingAndGlyphs">27 Jul 04:00</text>
<text x="1220.6" y="823" fill="#000" font-size="10.2" stroke="#000" stroke-width="0.1" textLength="49.3" lengthAdjust="spacingAndGlyphs">27 Jul 20:00</text>
<text x="1284.6" y="823" fill="#000" font-size="10.2" stroke="#000" stroke-width="0.1" textLength="49.3" lengthAdjust="spacingAndGlyphs">28 Jul 12:00</text>
<rect x="0" y="25" width="4" height="806" fill="#fff"/>
<rect x="4" y="27" width="1" height="607" fill="#000"/>
<rect x="4" y="635" width="1" height="89" fill="#000"/>
<rect x="4" y="725" width="1" height="86" fill="#000"/>
<rect x="0" y="25" width="1" height="806" fill="#acacac"/>
<rect x="1" y="25" width="1" height="806" fill="#8c8c8c"/>
<rect x="1653" y="25" width="1" height="806" fill="#a0a0a0"/>
<rect x="1654" y="25" width="1" height="808" fill="#e6e6e6"/>
<rect x="0" y="831" width="1655" height="1" fill="#e3e3e3"/>
<rect x="0" y="832" width="1655" height="1" fill="#f4f4f4"/>
<rect x="4" y="26" width="6" height="6" fill="#ff0000"/>
<rect x="6" y="28" width="2" height="2" fill="#fff"/>
<rect x="4" y="48" width="6" height="6" fill="#ff0000"/>
<rect x="6" y="50" width="2" height="2" fill="#fff"/>
<rect x="4" y="90" width="6" height="6" fill="#00bfff"/>
<rect x="6" y="92" width="2" height="2" fill="#fff"/>
<rect x="4" y="118" width="6" height="6" fill="#0000ff"/>
<rect x="6" y="120" width="2" height="2" fill="#fff"/>
<rect x="4" y="146" width="6" height="6" fill="#0000ff"/>
<rect x="6" y="148" width="2" height="2" fill="#fff"/>
<g shape-rendering="crispEdges">
<rect x="204" y="0" width="1" height="21" fill="#a0a0a0"/>
<rect x="205" y="0" width="1" height="21" fill="#ffffff"/>
<rect x="207" y="1" width="3" height="1" fill="#8a8a8a"/>
<rect x="207" y="3" width="3" height="1" fill="#8a8a8a"/>
<rect x="207" y="5" width="3" height="1" fill="#8a8a8a"/>
<rect x="207" y="7" width="3" height="1" fill="#8a8a8a"/>
<rect x="207" y="9" width="3" height="1" fill="#8a8a8a"/>
<rect x="207" y="11" width="3" height="1" fill="#8a8a8a"/>
<rect x="207" y="13" width="3" height="1" fill="#8a8a8a"/>
<rect x="207" y="15" width="3" height="1" fill="#8a8a8a"/>
<rect x="207" y="17" width="3" height="1" fill="#8a8a8a"/>
<rect x="207" y="19" width="3" height="1" fill="#8a8a8a"/>
<rect x="242" y="0" width="1" height="21" fill="#a0a0a0"/>
<rect x="243" y="0" width="1" height="21" fill="#ffffff"/>
<rect x="243" y="0" width="25" height="21" fill="#f7f7f7"/>
<rect x="243" y="21" width="25" height="1" fill="#ffffff"/>
<rect x="299" y="0" width="1" height="21" fill="#a0a0a0"/>
<rect x="300" y="0" width="1" height="21" fill="#ffffff"/>
<rect x="389" y="0" width="1" height="21" fill="#a0a0a0"/>
<rect x="390" y="0" width="1" height="21" fill="#ffffff"/>
<rect x="394" y="0" width="1" height="21" fill="#a0a0a0"/>
<rect x="395" y="0" width="1" height="21" fill="#ffffff"/>
<rect x="395" y="0" width="24" height="21" fill="#f7f7f7"/>
<rect x="395" y="21" width="24" height="1" fill="#ffffff"/>
<rect x="422" y="0" width="1" height="21" fill="#a0a0a0"/>
<rect x="423" y="0" width="1" height="21" fill="#ffffff"/>
<rect x="423" y="0" width="24" height="21" fill="#f7f7f7"/>
<rect x="423" y="21" width="24" height="1" fill="#ffffff"/>
<rect x="451" y="0" width="1" height="21" fill="#a0a0a0"/>
<rect x="452" y="0" width="1" height="21" fill="#ffffff"/>
<rect x="572" y="0" width="1" height="21" fill="#a0a0a0"/>
<rect x="573" y="0" width="1" height="21" fill="#ffffff"/>
<rect x="576" y="1" width="3" height="1" fill="#8a8a8a"/>
<rect x="576" y="3" width="3" height="1" fill="#8a8a8a"/>
<rect x="576" y="5" width="3" height="1" fill="#8a8a8a"/>
<rect x="576" y="7" width="3" height="1" fill="#8a8a8a"/>
<rect x="576" y="9" width="3" height="1" fill="#8a8a8a"/>
<rect x="576" y="11" width="3" height="1" fill="#8a8a8a"/>
<rect x="576" y="13" width="3" height="1" fill="#8a8a8a"/>
<rect x="576" y="15" width="3" height="1" fill="#8a8a8a"/>
<rect x="576" y="17" width="3" height="1" fill="#8a8a8a"/>
<rect x="576" y="19" width="3" height="1" fill="#8a8a8a"/>
<rect x="582" y="0" width="1" height="21" fill="#a0a0a0"/>
<rect x="583" y="0" width="1" height="21" fill="#ffffff"/>
<rect x="583" y="0" width="24" height="21" fill="#f7f7f7"/>
<rect x="583" y="21" width="24" height="1" fill="#ffffff"/>
<rect x="639" y="0" width="1" height="21" fill="#a0a0a0"/>
<rect x="640" y="0" width="1" height="21" fill="#ffffff"/>
<rect x="878" y="0" width="1" height="21" fill="#a0a0a0"/>
<rect x="879" y="0" width="1" height="21" fill="#ffffff"/>
<rect x="882" y="1" width="3" height="1" fill="#8a8a8a"/>
<rect x="882" y="3" width="3" height="1" fill="#8a8a8a"/>
<rect x="882" y="5" width="3" height="1" fill="#8a8a8a"/>
<rect x="882" y="7" width="3" height="1" fill="#8a8a8a"/>
<rect x="882" y="9" width="3" height="1" fill="#8a8a8a"/>
<rect x="882" y="11" width="3" height="1" fill="#8a8a8a"/>
<rect x="882" y="13" width="3" height="1" fill="#8a8a8a"/>
<rect x="882" y="15" width="3" height="1" fill="#8a8a8a"/>
<rect x="882" y="17" width="3" height="1" fill="#8a8a8a"/>
<rect x="882" y="19" width="3" height="1" fill="#8a8a8a"/>
<rect x="1139" y="0" width="1" height="21" fill="#a0a0a0"/>
<rect x="1140" y="0" width="1" height="21" fill="#ffffff"/>
</g>
<g stroke="#000" stroke-width="0.95" fill="none" stroke-linecap="butt">
<path d="M0,5.5H2.5 M4.5,5.5H7 M7,5.5L8,4.3 M0,8.5H12 M0,10.5H2.5 M0.5,9V14.5 M4.5,5.5V14.5 M6.5,8.5V14.5 M3.3,12L2,14.5"/>
<path d="M11,4.5L12.3,6.5 M11.5,8.5V13.5L13.5,11.5 M13.5,5.5H21 M17.5,5.5V14.5H15"/>
<path d="M23.5,4L24.5,5.5 M29.5,4L28.5,5.5 M22.5,6.5H31.5V10.5H22.5Z M22.5,8.5H31.5 M21,12.5H33 M26.8,6.5V15.5"/>
<path d="M153.5,4L154.5,5 M150.5,5.5H159V13.5H150.5Z M150.5,7.5H159 M150.5,10.5H159"/>
<path d="M162,5.5H166.5 M161.5,8.5H166.5 M163.5,8.5L162,13.5H166.5 M165.5,11L166.5,13.5 M166.5,6.5H171.5V14.5H170 M169,4V8.5L167,14.5"/>
<path d="M178.5,4V5 M173.5,6.5H184.5 M176,8L174.5,10 M181.5,8L183,10 M176.5,10L183.5,14.8 M181.5,10L174.5,14.8"/>
<path d="M187.5,4.5H194.5V8.5H187.5Z M187.5,6.5H194.5 M188.5,10H195V14.5H193.5 M188.5,10L186,12.5 M190,11L188,14 M192,11L190,14"/>
</g>
<defs><linearGradient id="bk" x1="0" y1="0" x2="1" y2="1"><stop offset="0" stop-color="#fff0a0"/><stop offset="0.5" stop-color="#f0c830"/><stop offset="1" stop-color="#c89020"/></linearGradient><linearGradient id="pf" x1="0" y1="0" x2="1" y2="0"><stop offset="0" stop-color="#1a80e0"/><stop offset="1" stop-color="#50b0f8"/></linearGradient><radialGradient id="cl" cx="0.5" cy="0.4" r="0.7"><stop offset="0" stop-color="#1a6ad8"/><stop offset="1" stop-color="#0a4ab0"/></radialGradient></defs>
<path d="M45.2,13.2 L51,4.5 L60.4,11.8 L54.4,18.8 Z" fill="url(#bk)" stroke="#9a6a10" stroke-width="0.9"/>
<path d="M46,14.2 L54.4,19.6 L60.8,12.6" fill="none" stroke="#c89040" stroke-width="1.1"/>
<path d="M47,12.8 L51.5,6.2" stroke="#fff6c0" stroke-width="0.8"/>
<path d="M75.5,4.5 L78,3 H86 V14 H75.5 Z" fill="url(#pf)" stroke="#1a60b8" stroke-width="0.9"/>
<path d="M78,3 V14" stroke="#a8d8ff" stroke-width="0.8"/>
<rect x="79.5" y="6.5" width="5" height="1.3" fill="#d8eeff"/>
<path d="M74.5,18.8 C72.5,18.8 72.3,15 75.3,15 C75.8,12 80,11.3 81.5,13.3 C83,11.8 86.8,12.6 86.6,15.2 C89.3,15.2 89.5,18.8 87,18.8 Z" fill="#f4f6fa" stroke="#5a78a8" stroke-width="0.9"/>
<path d="M75,17.5 H87.5" stroke="#c8d0e0" stroke-width="1.2"/>
<g fill="none" stroke-width="1">
<circle cx="109" cy="11" r="7.5" stroke="#9cc0d8"/>
<path d="M106,5 A6.5,6.5 0 0 0 106,17" stroke="#4a7ad0"/>
<path d="M107,7.5 A4,4 0 0 0 107,14.5" stroke="#4a7ad0"/>
<path d="M112,5 A6.5,6.5 0 0 1 112,17" stroke="#5aa060"/>
<path d="M111,7.5 A4,4 0 0 1 111,14.5" stroke="#5aa060"/>
</g>
<circle cx="109" cy="11" r="1.8" fill="#2050c0"/>
<path d="M109,11V19" stroke="#20a020" stroke-width="1.3"/>
<path d="M130,11 L142,11 L138,19 Z" fill="#f0d040" stroke="#b09020" stroke-width="0.8"/>
<ellipse cx="135.5" cy="8" rx="7.5" ry="2.6" fill="#5ab0e8" stroke="#2a78b8" stroke-width="0.8"/>
<ellipse cx="135.5" cy="5.5" rx="4" ry="2.8" fill="#6cc0f0" stroke="#2a78b8" stroke-width="0.8"/>
<circle cx="140.5" cy="14.5" r="4.3" fill="#e02010" stroke="#b01008" stroke-width="0.6"/>
<rect x="139" y="13" width="3" height="3" fill="#fff"/>
<g fill="#555" shape-rendering="crispEdges">
<rect x="222" y="6" width="1" height="13" />
<rect x="220" y="16" width="14" height="1" />
</g>
<path d="M220.5,7.5 L222.5,5 L224.5,7.5 Z" fill="#555"/>
<path d="M232.5,14.5 L235,16.5 L232.5,18.5 Z" fill="#555"/>
<g fill="#1a901a" shape-rendering="crispEdges"><rect x="228" y="6" width="1.3" height="9"/><rect x="228" y="7" width="3" height="1.2"/><rect x="226" y="13" width="2" height="1.2"/></g>
<g fill="#555" shape-rendering="crispEdges">
<rect x="250" y="6" width="1" height="13" />
<rect x="248" y="16" width="14" height="1" />
</g>
<path d="M248.5,7.5 L250.5,5 L252.5,7.5 Z" fill="#555"/>
<path d="M260.5,14.5 L263,16.5 L260.5,18.5 Z" fill="#555"/>
<rect x="254.5" y="5.5" width="4.5" height="7.5" fill="#3ad03a" stroke="#168a16" stroke-width="1"/>
<rect x="256.3" y="3" width="1" height="12" fill="#168a16"/>
<rect x="254.5" y="5.5" width="4.5" height="7.5" fill="#3ad03a" stroke="#168a16" stroke-width="1"/>
<g fill="#555" shape-rendering="crispEdges">
<rect x="278" y="6" width="1" height="13" />
<rect x="276" y="16" width="14" height="1" />
</g>
<path d="M276.5,7.5 L278.5,5 L280.5,7.5 Z" fill="#555"/>
<path d="M288.5,14.5 L291,16.5 L288.5,18.5 Z" fill="#555"/>
<path d="M277,13.5 C279,11 281,8 283,8 C285,8 286.5,10.5 288.5,11.5" fill="none" stroke="#2a9a2a" stroke-width="1"/>
<path d="M317.2,12.8 L323,18.2" stroke="#a87808" stroke-width="3.2"/>
<path d="M317.2,12.8 L323,18.2" stroke="#f4dc60" stroke-width="1.6"/>
<circle cx="314" cy="9" r="5.5" fill="#dff2ff" stroke="#3a82c8" stroke-width="1"/>
<rect x="311" y="8.2" width="6" height="1.8" fill="#4a8ab8"/>
<rect x="313.1" y="6" width="1.8" height="6" fill="#4a8ab8"/>
<path d="M345.2,12.8 L351,18.2" stroke="#a87808" stroke-width="3.2"/>
<path d="M345.2,12.8 L351,18.2" stroke="#f4dc60" stroke-width="1.6"/>
<circle cx="342" cy="9" r="5.5" fill="#dff2ff" stroke="#3a82c8" stroke-width="1"/>
<rect x="339" y="8.2" width="6" height="1.8" fill="#4a8ab8"/>
<rect x="364" y="3" width="7.6" height="7.6" fill="#28a020" rx="0.6"/>
<rect x="365" y="6.2" width="5.6" height="3.6" fill="#fff"/>
<rect x="366" y="7.4" width="3.6" height="0.9" fill="#90d880"/>
<rect x="365" y="4" width="1" height="1" fill="#e8f0ff"/>
<rect x="372" y="3" width="7.6" height="7.6" fill="#1a48d0" rx="0.6"/>
<rect x="373" y="6.2" width="5.6" height="3.6" fill="#fff"/>
<rect x="374" y="7.4" width="3.6" height="0.9" fill="#80a0e8"/>
<rect x="373" y="4" width="1" height="1" fill="#e8f0ff"/>
<rect x="364" y="11" width="7.6" height="7.6" fill="#1a48d0" rx="0.6"/>
<rect x="365" y="14.2" width="5.6" height="3.6" fill="#fff"/>
<rect x="366" y="15.4" width="3.6" height="0.9" fill="#80a0e8"/>
<rect x="365" y="12" width="1" height="1" fill="#e8f0ff"/>
<rect x="372" y="11" width="7.6" height="7.6" fill="#28a020" rx="0.6"/>
<rect x="373" y="14.2" width="5.6" height="3.6" fill="#fff"/>
<rect x="374" y="15.4" width="3.6" height="0.9" fill="#90d880"/>
<rect x="373" y="12" width="1" height="1" fill="#e8f0ff"/>
<g fill="#555" shape-rendering="crispEdges">
<rect x="402" y="6" width="1" height="13" />
<rect x="400" y="16" width="14" height="1" />
</g>
<path d="M400.5,7.5 L402.5,5 L404.5,7.5 Z" fill="#555"/>
<path d="M412.5,14.5 L415,16.5 L412.5,18.5 Z" fill="#555"/>
<path d="M407.5,7.5 L411,10.5 L407.5,13.5 Z" fill="#8ee08e" stroke="#1a9a1a" stroke-width="1"/>
<g fill="#555" shape-rendering="crispEdges">
<rect x="430" y="6" width="1" height="13" />
<rect x="428" y="16" width="14" height="1" />
</g>
<path d="M428.5,7.5 L430.5,5 L432.5,7.5 Z" fill="#555"/>
<path d="M440.5,14.5 L443,16.5 L440.5,18.5 Z" fill="#555"/>
<rect x="436" y="5" width="1.2" height="10" fill="#1a6aa0"/>
<path d="M438,10.3 H442" stroke="#d04010" stroke-width="1.2"/><path d="M437.5,10.3 L440.5,8 L440,12.5 Z" fill="#e05010"/>
<path d="M461.5,3.5 H470 L472.5,6 V16.5 H461.5 Z" fill="#fff" stroke="#888" stroke-width="1"/>
<path d="M465,14 V7 Q465,5.8 466.5,5.8" stroke="#333" fill="none" stroke-width="0.9"/>
<path d="M469.5,9 h3 v3.5 h3.5 v3 h-3.5 v3.5 h-3 v-3.5 h-3.5 v-3 h3.5 z" fill="#30d030" stroke="#129012" stroke-width="1"/>
<path d="M482.8,10 L488.3,10 L485.55,13 Z" fill="#000"/>
<path d="M521.6,10 L527.1,10 L524.35,13 Z" fill="#000"/>
<path d="M560.8,10 L566.3,10 L563.55,13 Z" fill="#000"/>
<path d="M867,10 L872.5,10 L869.75,13 Z" fill="#000"/>
<circle cx="507" cy="11" r="7.3" fill="url(#cl)"/><circle cx="507" cy="11" r="5.3" fill="#f4f8ff" stroke="#8ab8e8" stroke-width="0.6"/>
<path d="M506.5,6.5 V11.5 H510" stroke="#222" fill="none" stroke-width="1"/>
<rect x="538.5" y="4.5" width="15" height="13" fill="#fff" stroke="#2a6ac8" stroke-width="1"/>
<rect x="539" y="5" width="14" height="2" fill="#5a9ae0"/>
<rect x="539" y="11" width="14" height="1" fill="#2a6ac8"/>
<path d="M540.5,10 L543,9.5 L545,8.5 L547,9.5 L549.5,8.5 L552,8.5" fill="none" stroke="#b02010" stroke-width="1"/>
<path d="M540.5,15.5 L543,15 L545,14.5 L547,15 L549.5,13.5 L552,15.5" fill="none" stroke="#20a020" stroke-width="1"/>
<path d="M590.3,3.8 L598,11.2 L594.8,11.6 L596.8,16.8 L595,17.6 L593,12.6 L590.6,15 Z" fill="#505050"/>
<g fill="#444" shape-rendering="crispEdges"><rect x="622" y="4" width="1" height="6"/><rect x="622" y="13" width="1" height="6"/><rect x="615" y="11" width="6" height="1"/><rect x="624" y="11" width="6" height="1"/></g>
<g fill="#444" shape-rendering="crispEdges"><rect x="656" y="5" width="1" height="13"/><rect x="679" y="11" width="13" height="1"/></g>
<path d="M707,18 L719,5.8" stroke="#555" stroke-width="1.1"/>
<g stroke="#444" stroke-width="1" fill="none"><path d="M733,12.5 L741,5 M735,16 L747,5.5 M738,17.5 L746,10"/><path d="M736,10.5 V17.5 M739,8 V15 M744.5,3 V10.5"/></g>
<text x="743.5" y="20" font-size="7" font-weight="bold" fill="#444">E</text>
<g fill="#555" shape-rendering="crispEdges">
<rect x="762" y="4" width="1" height="1"/>
<rect x="764" y="4" width="1" height="1"/>
<rect x="766" y="4" width="1" height="1"/>
<rect x="768" y="4" width="1" height="1"/>
<rect x="770" y="4" width="1" height="1"/>
<rect x="772" y="4" width="1" height="1"/>
<rect x="774" y="4" width="1" height="1"/>
<rect x="762" y="7" width="1" height="1"/>
<rect x="764" y="7" width="1" height="1"/>
<rect x="766" y="7" width="1" height="1"/>
<rect x="768" y="7" width="1" height="1"/>
<rect x="770" y="7" width="1" height="1"/>
<rect x="772" y="7" width="1" height="1"/>
<rect x="774" y="7" width="1" height="1"/>
<rect x="762" y="11" width="1" height="1"/>
<rect x="764" y="11" width="1" height="1"/>
<rect x="766" y="11" width="1" height="1"/>
<rect x="768" y="11" width="1" height="1"/>
<rect x="770" y="11" width="1" height="1"/>
<rect x="772" y="11" width="1" height="1"/>
<rect x="774" y="11" width="1" height="1"/>
<rect x="762" y="15" width="1" height="1"/>
<rect x="764" y="15" width="1" height="1"/>
<rect x="766" y="15" width="1" height="1"/>
<rect x="768" y="15" width="1" height="1"/>
<rect x="770" y="15" width="1" height="1"/>
</g>
<text x="771.5" y="20" font-size="7" font-weight="bold" fill="#444">F</text>
<text x="792" y="16" font-size="12" font-weight="bold" fill="#555">A</text>
<g fill="#555" shape-rendering="crispEdges">
<rect x="819" y="5" width="1" height="1"/><rect x="819" y="17" width="1" height="1"/>
<rect x="821" y="5" width="1" height="1"/><rect x="821" y="17" width="1" height="1"/>
<rect x="823" y="5" width="1" height="1"/><rect x="823" y="17" width="1" height="1"/>
<rect x="825" y="5" width="1" height="1"/><rect x="825" y="17" width="1" height="1"/>
<rect x="827" y="5" width="1" height="1"/><rect x="827" y="17" width="1" height="1"/>
<rect x="829" y="5" width="1" height="1"/><rect x="829" y="17" width="1" height="1"/>
<rect x="819" y="5" width="1" height="1"/><rect x="830" y="5" width="1" height="1"/>
<rect x="819" y="7" width="1" height="1"/><rect x="830" y="7" width="1" height="1"/>
<rect x="819" y="9" width="1" height="1"/><rect x="830" y="9" width="1" height="1"/>
<rect x="819" y="11" width="1" height="1"/><rect x="830" y="11" width="1" height="1"/>
<rect x="819" y="13" width="1" height="1"/><rect x="830" y="13" width="1" height="1"/>
<rect x="819" y="15" width="1" height="1"/><rect x="830" y="15" width="1" height="1"/>
<rect x="822" y="8" width="7" height="1.3"/><rect x="824.8" y="8" width="1.5" height="7.5"/>
</g>
<path d="M846,8.5 L849.5,5 L853,8.5 Z" fill="#555"/><path d="M848,10 L851,13.5 L855,9" fill="none" stroke="#555" stroke-width="1.1"/><path d="M853.5,14 L860,14 L856.7,18 Z" fill="#555"/>
<g shape-rendering="crispEdges">
<rect x="1028" y="0" width="1" height="21" fill="#a0a0a0"/>
<rect x="1029" y="0" width="1" height="21" fill="#ffffff"/>
<rect x="1030" y="0" width="23" height="21" fill="#f7f7f7"/>
<rect x="1030" y="21" width="23" height="1" fill="#ffffff"/>
</g>
<text x="893.5" y="15" font-size="10" fill="#2a2a2a" textLength="12.5" lengthAdjust="spacingAndGlyphs">M1</text>
<text x="921.5" y="15" font-size="10" fill="#2a2a2a" textLength="12.8" lengthAdjust="spacingAndGlyphs">M5</text>
<text x="947.5" y="15" font-size="10" fill="#2a2a2a" textLength="17.7" lengthAdjust="spacingAndGlyphs">M15</text>
<text x="975.3" y="15" font-size="10" fill="#2a2a2a" textLength="18.1" lengthAdjust="spacingAndGlyphs">M30</text>
<text x="1006.3" y="15" font-size="10" fill="#2a2a2a" textLength="12" lengthAdjust="spacingAndGlyphs">H1</text>
<text x="1033.2" y="15" font-size="10" fill="#2a2a2a" textLength="12.8" lengthAdjust="spacingAndGlyphs">H4</text>
<text x="1062.3" y="15" font-size="10" fill="#2a2a2a" textLength="11.8" lengthAdjust="spacingAndGlyphs">D1</text>
<text x="1089.5" y="15" font-size="10" fill="#2a2a2a" textLength="14.8" lengthAdjust="spacingAndGlyphs">W1</text>
<text x="1116.4" y="15" font-size="10" fill="#2a2a2a" textLength="14.8" lengthAdjust="spacingAndGlyphs">MN</text>
<circle cx="1609.5" cy="8.5" r="3.8" fill="#fff" stroke="#2060d0" stroke-width="1.4"/>
<path d="M1606.6,11.4 L1602.2,15.8" stroke="#2a68d0" stroke-width="2.8"/>
<path d="M1627,13 C1627,9 1631,7.5 1634,7.5 C1638,7.5 1640,9.5 1640,13 C1640,16 1636,17.5 1633,17.5 L1630,19.5 L1630.5,17 C1628,16 1627,14.5 1627,13 Z" fill="#e8e8ee" stroke="#a0a0a8" stroke-width="0.8"/>
<circle cx="1640.4" cy="8.2" r="8.2" fill="#e03822"/>
<text x="1636.6" y="13" font-size="11" font-weight="bold" fill="#fff">1</text>
</svg>
</body></html>
